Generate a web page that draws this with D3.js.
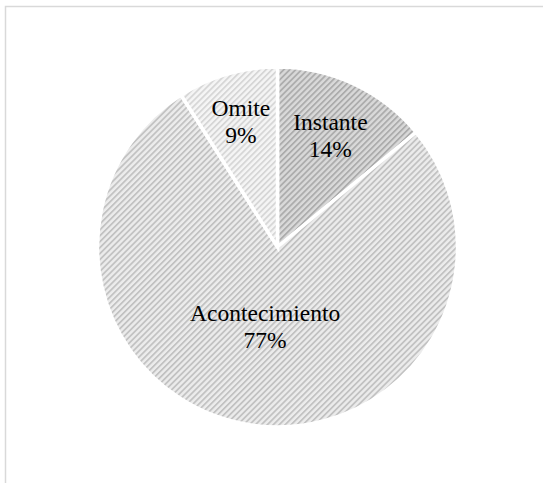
<!DOCTYPE html>
<html>
<head>
<meta charset="utf-8">
<script src="https://cdn.jsdelivr.net/npm/d3@7"></script>
<style>
  html, body { margin: 0; padding: 0; background: #fff; }
  svg { display: block; }
</style>
</head>
<body>
<script>
// Share of responses by category
const categories = ["Instante", "Acontecimiento", "Omite"];
const values = [14, 77, 9];
const percentLabels = ["14%", "77%", "9%"];

const W = 543, H = 483;
const cx = 277.5, cy = 247, R = 180;

const svg = d3.select("body").append("svg")
  .attr("width", W).attr("height", H);

// Hatch patterns, one per slice
const fills = [
  { bg: "#d9d9d9", fg: "#acacac" },
  { bg: "#ececec", fg: "#c2c2c2" },
  { bg: "#f5f5f5", fg: "#d6d6d6" }
];
const defs = svg.append("defs");
fills.forEach((f, i) => {
  const p = defs.append("pattern")
    .attr("id", "hatch" + i)
    .attr("patternUnits", "userSpaceOnUse")
    .attr("width", 4.2).attr("height", 4.2)
    .attr("patternTransform", "rotate(45)");
  p.append("rect").attr("width", 4.2).attr("height", 4.2).attr("fill", f.bg);
  p.append("rect").attr("width", 1.8).attr("height", 4.2).attr("fill", f.fg);
});

// Chart frame
svg.append("rect")
  .attr("x", 5.5).attr("y", 6.5)
  .attr("width", 700).attr("height", 700)
  .attr("fill", "none")
  .attr("stroke", "#d9d9d9")
  .attr("stroke-width", 1.5);

const pie = d3.pie().sort(null).value(d => d)(values);
const arc = d3.arc().innerRadius(0).outerRadius(R);

const g = svg.append("g").attr("transform", `translate(${cx},${cy})`);

g.selectAll("path.slice")
  .data(pie)
  .join("path")
  .attr("class", "slice")
  .attr("d", arc)
  .attr("fill", (d, i) => `url(#hatch${i})`)
  .attr("stroke", "#fff")
  .attr("stroke-width", 3.5)
  .attr("stroke-linejoin", "miter");

// Label radius as a fraction of R for each slice
const labelFrac = [0.69, 0.44, 0.73];
const fontSize = 23.5;

pie.forEach((d, i) => {
  const a = (d.startAngle + d.endAngle) / 2;
  const r = R * labelFrac[i];
  const x = Math.sin(a) * r;
  const y = -Math.cos(a) * r;
  const t = g.append("text")
    .attr("x", x).attr("y", y)
    .attr("text-anchor", "middle")
    .style("font-family", '"Liberation Serif"')
    .style("font-size", fontSize + "px")
    .attr("fill", "#000");
  t.append("tspan").attr("x", x).attr("dy", "-0.2em").text(categories[i]);
  t.append("tspan").attr("x", x).attr("dy", "1.15em").text(percentLabels[i]);
});
</script>
</body>
</html>
